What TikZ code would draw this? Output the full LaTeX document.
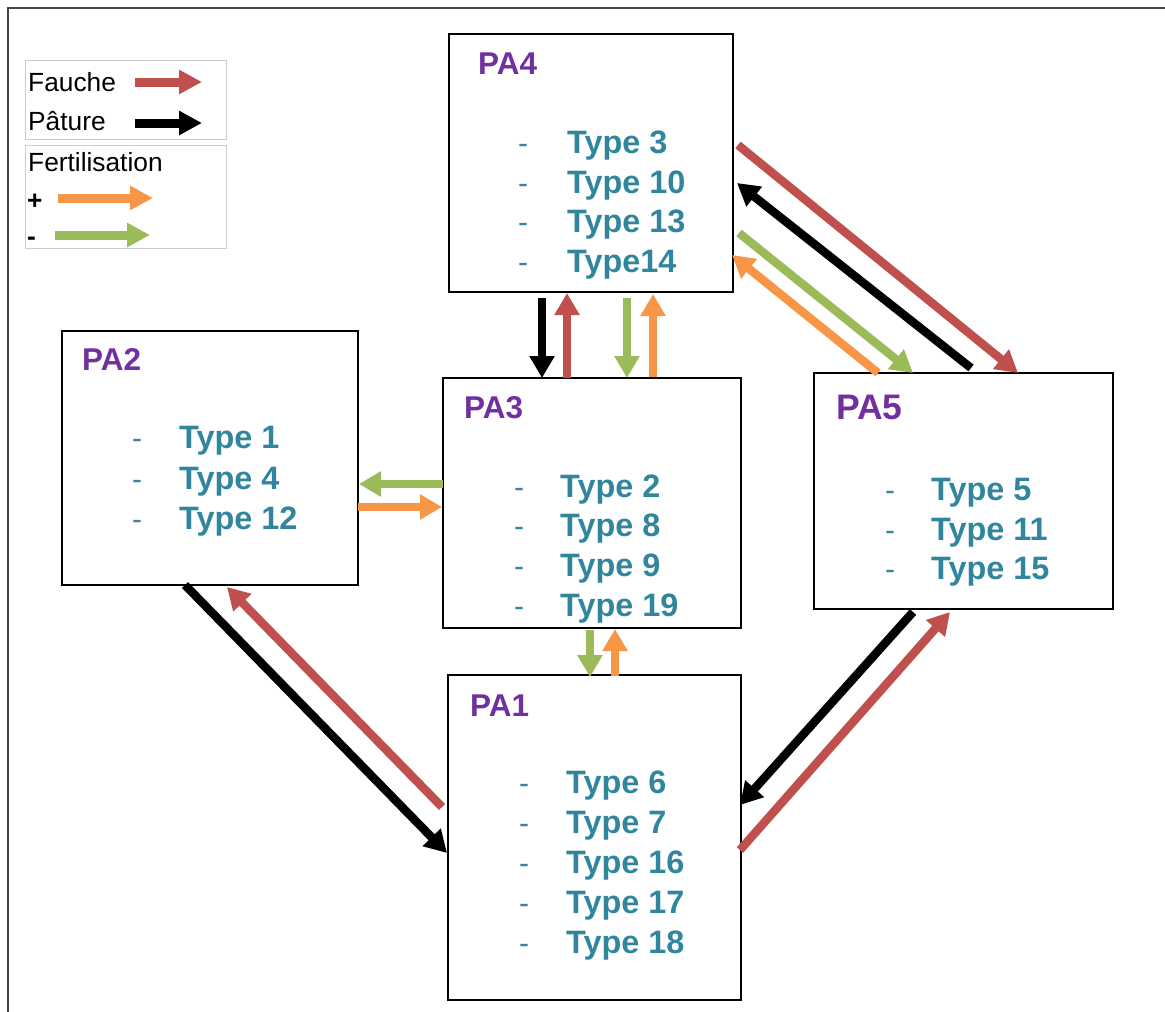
\documentclass[tikz,border=0pt]{standalone}
\usepackage{fontspec}
\setmainfont{Liberation Sans}
\usetikzlibrary{arrows.meta}
\definecolor{fauchecol}{HTML}{C0504D}
\definecolor{pluscol}{HTML}{F79646}
\definecolor{minuscol}{HTML}{9BBB59}
\definecolor{pacol}{HTML}{7030A0}
\definecolor{typecol}{HTML}{31859C}
\definecolor{framecol}{HTML}{444444}
\definecolor{legcol}{HTML}{CCCCCC}
\begin{document}
\begin{tikzpicture}[x=1pt,y=-1pt,
  box/.style={draw=black, line width=1.3pt, inner sep=0pt, minimum width=#1},
  legbox/.style={draw=legcol, line width=1pt, inner sep=0pt},
  palabel/.style={anchor=base west, inner sep=0pt, text=pacol, font=\fontsize{31.5}{36}\selectfont\bfseries},
  typelbl/.style={anchor=base west, inner sep=0pt, text=typecol, font=\fontsize{32.4}{36}\selectfont\bfseries},
  dashlbl/.style={anchor=base west, inner sep=0pt, text=typecol, font=\fontsize{30}{36}\selectfont},
  legtxt/.style={anchor=base west, inner sep=0pt, text=black, font=\fontsize{26.3}{30}\selectfont},
  arr/.style={line width=8.5pt, -{Triangle[width=24pt,length=22pt]}},
  legarr/.style={line width=9pt, -{Triangle[width=23pt,length=23pt]}}]
\useasboundingbox (0,0) rectangle (1165,1012);
% frame
\draw[framecol, line width=2pt] (8,1012) -- (8,8) -- (1165,8);

% legend
\node[legbox, minimum width=201pt, minimum height=79pt] (leg1) at (125.5,99.5) {};
\node[legbox, minimum width=201pt, minimum height=103pt] (leg2) at (125.5,196.5) {};
\node[legtxt] (tfauche) at (28,91) {Fauche};
\node[legtxt] (tpature) at (28,130) {Pâture};
\node[legtxt] (tfert) at (28,171) {Fertilisation};
\node[legtxt, font=\fontsize{26.3}{30}\selectfont\bfseries] (tplus) at (27,209) {+};
\node[legtxt, font=\fontsize{26.3}{30}\selectfont\bfseries] (tminus) at (27,245) {-};
\coordinate (lf1) at (135,82); \coordinate (lf2) at (202,82);
\coordinate (lp1) at (135,123); \coordinate (lp2) at (202,123);
\coordinate (lo1) at (58,198); \coordinate (lo2) at (153,198);
\coordinate (lg1) at (55,235); \coordinate (lg2) at (150,235);
\draw[legarr, fauchecol] (lf1) -- (lf2);
\draw[legarr, black] (lp1) -- (lp2);
\draw[legarr, pluscol] (lo1) -- (lo2);
\draw[legarr, minuscol] (lg1) -- (lg2);

% boxes
\node[box=284pt, minimum height=258pt] (pa4) at (591,163) {};
\node[box=298pt, minimum height=250pt] (pa3) at (592,503) {};
\node[box=296pt, minimum height=254pt] (pa2) at (210,458) {};
\node[box=299pt, minimum height=236pt] (pa5) at (963.5,491) {};
\node[box=293pt, minimum height=325pt] (pa1) at (594.5,837.5) {};

% PA4 text
\node[palabel] (pa4l) at (478,74) {PA4};
\foreach \y/\t [count=\i] in {153/Type 3,193/Type 10,232/Type 13,272/Type14}{
  \node[dashlbl] (pa4d\i) at (518,\y) {-};
  \node[typelbl] (pa4t\i) at (567,\y) {\t};
}
% PA3 text
\node[palabel] (pa3l) at (464,418) {PA3};
\foreach \y/\t [count=\i] in {497/Type 2,536/Type 8,576/Type 9,616/Type 19}{
  \node[dashlbl] (pa3d\i) at (514,\y) {-};
  \node[typelbl] (pa3t\i) at (560,\y) {\t};
}
% PA2 text
\node[palabel] (pa2l) at (82,370) {PA2};
\foreach \y/\t [count=\i] in {448/Type 1,489/Type 4,529/Type 12}{
  \node[dashlbl] (pa2d\i) at (132,\y) {-};
  \node[typelbl] (pa2t\i) at (179,\y) {\t};
}
% PA5 text
\node[palabel, font=\fontsize{35.5}{40}\selectfont\bfseries] (pa5l) at (836,419) {PA5};
\foreach \y/\t [count=\i] in {500/Type 5,540/Type 11,579/Type 15}{
  \node[dashlbl] (pa5d\i) at (885,\y) {-};
  \node[typelbl] (pa5t\i) at (931,\y) {\t};
}
% PA1 text
\node[palabel] (pa1l) at (470,716) {PA1};
\foreach \y/\t [count=\i] in {793/Type 6,833/Type 7,873/Type 16,913/Type 17,953/Type 18}{
  \node[dashlbl] (pa1d\i) at (519,\y) {-};
  \node[typelbl] (pa1t\i) at (566,\y) {\t};
}

% connector end points
\coordinate (a43s) at (542,298); \coordinate (a43e) at (542,378);
\coordinate (a34s) at (567,378); \coordinate (a34e) at (567,293);
\coordinate (g43s) at (627,298); \coordinate (g43e) at (627,378);
\coordinate (o34s) at (653,377); \coordinate (o34e) at (653,294);
\coordinate (g32s) at (443,484); \coordinate (g32e) at (359,484);
\coordinate (o23s) at (358,507); \coordinate (o23e) at (442,507);
\coordinate (g31s) at (590,630); \coordinate (g31e) at (590,677);
\coordinate (o13s) at (615,676); \coordinate (o13e) at (615,629);
\coordinate (b21s) at (185,585); \coordinate (b21e) at (447,853);
\coordinate (r12s) at (442,807); \coordinate (r12e) at (227,587);
\coordinate (r45s) at (738,145); \coordinate (r45e) at (1018,373);
\coordinate (b54s) at (971,368); \coordinate (b54e) at (737,183);
\coordinate (g45s) at (739,233); \coordinate (g45e) at (913,373);
\coordinate (o54s) at (878,373); \coordinate (o54e) at (732,255);
\coordinate (b51s) at (913,612); \coordinate (b51e) at (740,805);
\coordinate (r15s) at (740,850); \coordinate (r15e) at (950,612);

% connectors
\draw[arr, black] (a43s) -- (a43e);
\draw[arr, fauchecol] (a34s) -- (a34e);
\draw[arr, minuscol] (g43s) -- (g43e);
\draw[arr, pluscol] (o34s) -- (o34e);
\draw[arr, minuscol] (g32s) -- (g32e);
\draw[arr, pluscol] (o23s) -- (o23e);
\draw[arr, minuscol] (g31s) -- (g31e);
\draw[arr, pluscol] (o13s) -- (o13e);
\draw[arr, black] (b21s) -- (b21e);
\draw[arr, fauchecol] (r12s) -- (r12e);
\draw[arr, fauchecol] (r45s) -- (r45e);
\draw[arr, black] (b54s) -- (b54e);
\draw[arr, minuscol] (g45s) -- (g45e);
\draw[arr, pluscol] (o54s) -- (o54e);
\draw[arr, black] (b51s) -- (b51e);
\draw[arr, fauchecol] (r15s) -- (r15e);
\end{tikzpicture}
\end{document}
